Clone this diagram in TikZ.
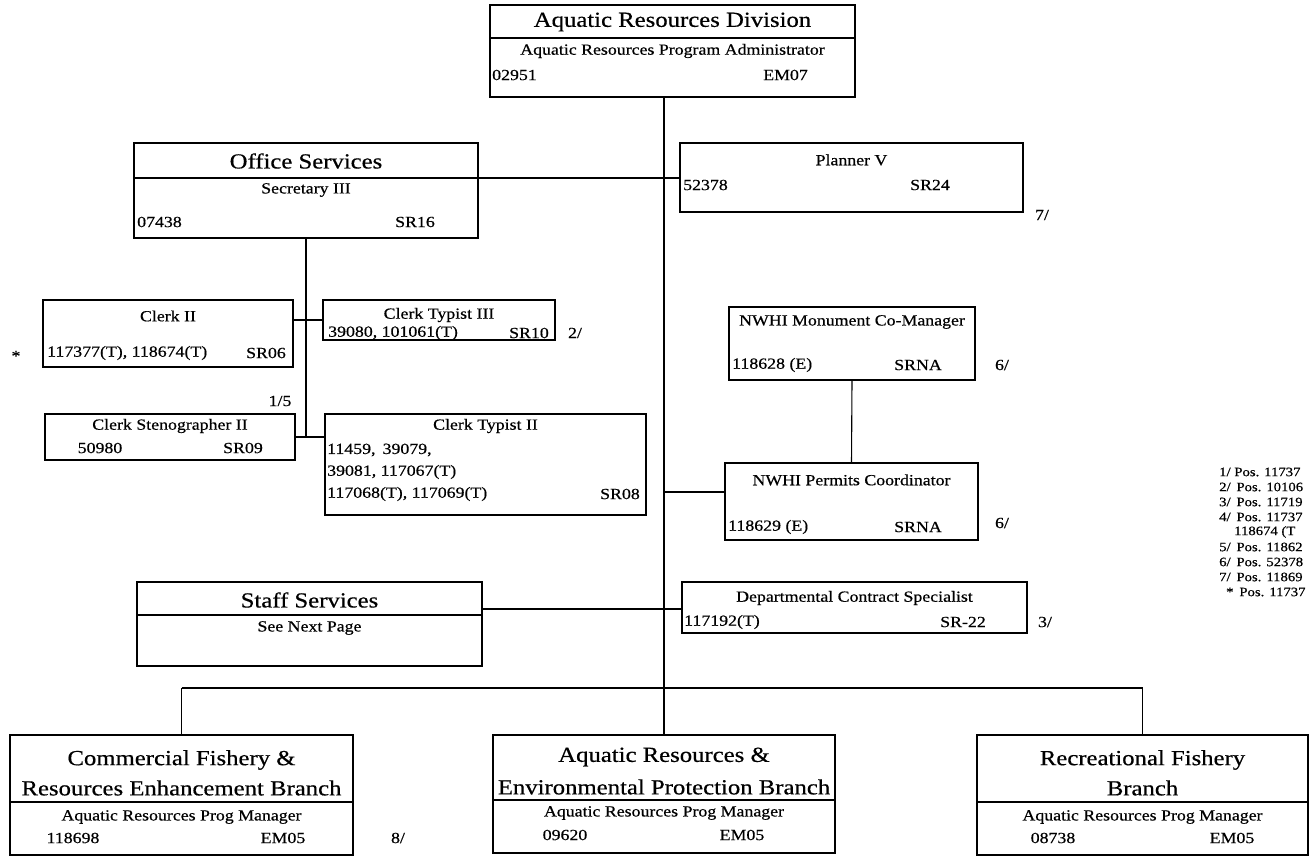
\documentclass[tikz,border=0pt]{standalone}
\usepackage{fontspec}
\setmainfont[FakeStretch=1.15,FakeBold=0.5]{Liberation Serif}
\newcommand\bigt{\fontsize{21.5}{26}\selectfont}
\newcommand\smt{\fontsize{15.5}{19}\selectfont}
\newcommand\fnt{\fontsize{12.8}{15}\selectfont}
\begin{document}
\begin{tikzpicture}[x=1pt,y=-1pt,
  obox/.style={draw, line width=1.1pt, inner sep=0pt, outer sep=0pt},
  conn/.style={line width=1.1pt},
  tl/.style={inner sep=0pt, font=\bigt},
  ts/.style={inner sep=0pt, font=\smt},
  tf/.style={inner sep=0pt, font=\fnt, anchor=west}]
\useasboundingbox (0,0) rectangle (1311,859);
% boxes
\node[obox, minimum width=365pt, minimum height=92pt] (top) at (672.5,51) {};
\node[obox, minimum width=344pt, minimum height=95pt] (office) at (306,190.5) {};
\node[obox, minimum width=343pt, minimum height=69pt] (planner) at (851.5,177.5) {};
\node[obox, minimum width=250pt, minimum height=67pt] (clerk2) at (168,333.5) {};
\node[obox, minimum width=232pt, minimum height=40pt] (ct3) at (439,320) {};
\node[obox, minimum width=250pt, minimum height=46pt] (steno) at (170,437) {};
\node[obox, minimum width=321pt, minimum height=101pt] (ct2) at (485.5,464.5) {};
\node[obox, minimum width=246pt, minimum height=73pt] (monument) at (852,343.5) {};
\node[obox, minimum width=253pt, minimum height=77pt] (permits) at (851.5,501.5) {};
\node[obox, minimum width=345pt, minimum height=84pt] (staff) at (309.5,624) {};
\node[obox, minimum width=345pt, minimum height=51pt] (dept) at (854.5,607.5) {};
\node[obox, minimum width=343pt, minimum height=120pt] (comm) at (181.5,795) {};
\node[obox, minimum width=342pt, minimum height=118pt] (aqenv) at (664,794) {};
\node[obox, minimum width=331pt, minimum height=120pt] (rec) at (1142.5,795) {};
% dividers
\coordinate (dTop) at (0,38);
\coordinate (dOff) at (0,178);
\coordinate (dStaff) at (0,615);
\coordinate (dBr) at (0,802);
\coordinate (dAq) at (0,800);
\draw[conn] (top.west|-dTop) -- (top.east|-dTop);
\draw[conn] (office.west|-dOff) -- (office.east|-dOff);
\draw[conn] (staff.west|-dStaff) -- (staff.east|-dStaff);
\draw[conn] (comm.west|-dBr) -- (comm.east|-dBr);
\draw[conn] (rec.west|-dBr) -- (rec.east|-dBr);
\draw[conn] (aqenv.west|-dAq) -- (aqenv.east|-dAq);
% connectors
\coordinate (j1) at (663,178);
\coordinate (j2) at (663,492);
\coordinate (j3) at (663,609);
\coordinate (bus) at (663,688);
\draw[conn] (top.south-|aqenv.north) -- (aqenv.north);
\draw[conn] (office.east|-j1) -- (planner.west|-j1);
\draw[conn] (office.south) -- (office.south|-steno.east);
\draw[conn] (clerk2.east|-ct3.west) -- (ct3.west);
\draw[conn] (steno.east) -- (steno.east-|ct2.west);
\draw[conn] (monument.south) -- (permits.north);
\draw[conn] (j2) -- (j2-|permits.west);
\draw[conn] (staff.east|-j3) -- (dept.west|-j3);
\draw[conn] (comm.north|-bus) -- (rec.north|-bus);
\draw[conn] (comm.north|-bus) -- (comm.north);
\draw[conn] (rec.north|-bus) -- (rec.north);
% texts: top
\node[tl] (tTop) at (672.5,22) {Aquatic Resources Division};
\node[ts] (tTop2) at (672.5,51) {Aquatic Resources Program Administrator};
\node[ts, anchor=west] (tTop3) at (492,75) {02951};
\node[ts, anchor=east] (tTop4) at (808,75) {EM07};
% office
\node[tl] (tOff) at (306,161) {Office Services};
\node[ts] (tOff2) at (306,190) {Secretary III};
\node[ts, anchor=west] (tOff3) at (137,222) {07438};
\node[ts] (tOff4) at (415,222) {SR16};
% planner
\node[ts] (tPl) at (851.5,160) {Planner V};
\node[ts, anchor=west] (tPl2) at (683,185) {52378};
\node[ts] (tPl3) at (930,185) {SR24};
\node[ts] (n7) at (1042,215) {7/};
% clerk II
\node[ts] (tC2) at (168,316) {Clerk II};
\node[ts, anchor=west] (tC2b) at (47,353) {117377(T), 118674(T)};
\node[ts, anchor=east] (tC2c) at (286,353) {SR06};
\node[ts] (star) at (16,356) {*};
% clerk typist III
\node[ts] (tC3) at (439,315) {Clerk Typist III};
\node[ts, anchor=west] (tC3b) at (328,333) {39080, 101061(T)};
\node[ts, anchor=east] (tC3c) at (549,333) {SR10};
\node[ts] (n2) at (575,333) {2/};
\node[ts] (n15) at (280,401) {1/5};
% steno
\node[ts] (tSt) at (170,426) {Clerk Stenographer II};
\node[ts] (tSt2) at (100,448) {50980};
\node[ts] (tSt3) at (243,448) {SR09};
% clerk typist II
\node[ts] (tCT2) at (485.5,426) {Clerk Typist II};
\node[ts, anchor=west] (tCT2a) at (327,450) {11459,\, 39079,};
\node[ts, anchor=west] (tCT2b) at (327,472) {39081, 117067(T)};
\node[ts, anchor=west] (tCT2c) at (327,494) {117068(T), 117069(T)};
\node[ts, anchor=east] (tCT2d) at (640,494) {SR08};
% monument
\node[ts] (tMo) at (852,322) {NWHI Monument Co-Manager};
\node[ts, anchor=west] (tMo2) at (732,365) {118628 (E)};
\node[ts] (tMo3) at (918,365) {SRNA};
\node[ts] (n6a) at (1002,365) {6/};
% permits
\node[ts] (tPe) at (851.5,480) {NWHI Permits Coordinator};
\node[ts, anchor=west] (tPe2) at (728,527) {118629 (E)};
\node[ts] (tPe3) at (918,527) {SRNA};
\node[ts] (n6b) at (1002,523) {6/};
% staff
\node[tl] (tSf) at (309.5,600) {Staff Services};
\node[ts] (tSf2) at (309.5,628) {See Next Page};
% dept
\node[ts] (tDe) at (854.5,598) {Departmental Contract Specialist};
\node[ts, anchor=west] (tDe2) at (684,622) {117192(T)};
\node[ts] (tDe3) at (963,622) {SR-22};
\node[ts] (n3) at (1045,622) {3/};
% branches
\node[tl] (tCo1) at (181.5,760) {Commercial Fishery \&};
\node[tl] (tCo2) at (181.5,788) {Resources Enhancement Branch};
\node[ts] (tCo3) at (181.5,817) {Aquatic Resources Prog Manager};
\node[ts] (tCo4) at (73,838) {118698};
\node[ts] (tCo5) at (283,838) {EM05};
\node[ts] (n8) at (398,838) {8/};
\node[tl] (tAq1) at (664,757) {Aquatic Resources \&};
\node[tl] (tAq2) at (664,787) {Environmental Protection Branch};
\node[ts] (tAq3) at (664,813) {Aquatic Resources Prog Manager};
\node[ts] (tAq4) at (565,835) {09620};
\node[ts] (tAq5) at (742,835) {EM05};
\node[tl] (tRe1) at (1142.5,760) {Recreational Fishery};
\node[tl] (tRe2) at (1142.5,788) {Branch};
\node[ts] (tRe3) at (1142.5,817) {Aquatic Resources Prog Manager};
\node[ts] (tRe4) at (1053,838) {08738};
\node[ts] (tRe5) at (1232,838) {EM05};
% footnotes
\node[tf] (f1) at (1219,472) {1/ Pos. 11737};
\node[tf] (f2) at (1219,487) {2/\, Pos. 10106};
\node[tf] (f3) at (1219,502) {3/\, Pos. 11719};
\node[tf] (f4) at (1219,517) {4/\, Pos. 11737};
\node[tf] (f4b) at (1234,532) {118674 (T};
\node[tf] (f5) at (1219,547) {5/\, Pos. 11862};
\node[tf] (f6) at (1219,562) {6/\, Pos. 52378};
\node[tf] (f7) at (1219,577) {7/\, Pos. 11869};
\node[tf] (f8) at (1226,592) {*\, Pos. 11737};
\end{tikzpicture}
\end{document}
